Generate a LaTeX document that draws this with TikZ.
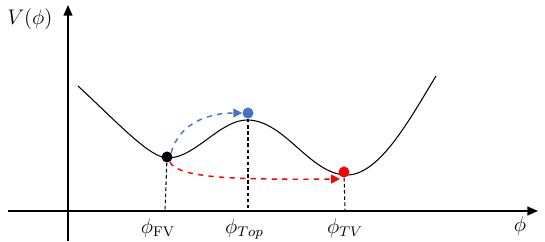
\documentclass[tikz,border=0pt]{standalone}
\usepackage{amsmath}
\usepackage{tikz}
\usepackage{xcolor}
\usetikzlibrary{arrows.meta,positioning}
\definecolor{hopblue}{RGB}{68,114,196}
\definecolor{hopred}{RGB}{255,0,0}

\begin{document}
\begin{tikzpicture}[x=.02cm,y=-.02cm,>=Latex,font=\large,
  dot/.style={circle,inner sep=0pt,minimum size=.22cm},
  guide/.style={dash pattern=on 2pt off 1.5pt,line width=.6pt},
  hop/.style={dashed,thick,->,>={Triangle[length=5pt,width=5pt]}}]
\useasboundingbox (0,0) rectangle (545,242);
% axes
\coordinate (xs) at (8,211);
\coordinate (xe) at (538,211);
\coordinate (ys) at (68,241);
\coordinate (ye) at (68,5);
\draw[thick,-{Triangle[length=6pt,width=5pt]}] (xs)--(xe);
\draw[thick,-{Triangle[length=6pt,width=5pt]}] (ys)--(ye);
\node (vlab) at (30,19) {$V(\phi)$};
\node (plab) at (520,226) {$\phi$};
% potential
\coordinate (c0) at (78,86);
\coordinate (cfv) at (168,158);
\coordinate (ctop) at (247,120);
\coordinate (ctv) at (347,175);
\coordinate (c1) at (436,76);
\draw[semithick] (c0) .. controls (120,125) and (150,158) .. (cfv)
  .. controls (195,158) and (220,120) .. (ctop)
  .. controls (285,120) and (310,175) .. (ctv)
  .. controls (380,175) and (411,117) .. (c1);
% vacua
\node[dot,fill=black] (fv) at (167,157) {};
\node[dot,fill=hopblue] (top) at (248,113) {};
\node[dot,fill=hopred] (tv) at (344,172) {};
\coordinate (afv) at (165,211);
\coordinate (atop) at (248,211);
\coordinate (atv) at (345,211);
\draw[guide] (fv)--(afv);
\draw[guide] (top)--(atop);
\draw[guide] (tv)--(atv);
\node[below=1pt of afv,xshift=-4pt] (lfv) {$\phi_{\mathrm{FV}}$};
\node[below=1pt of atop,xshift=-2pt] (ltop) {$\phi_{Top}$};
\node[below=1pt of atv] (ltv) {$\phi_{TV}$};
% transitions
\coordinate (tvin) at (340,179);
\draw[hop,hopblue] (fv.north east) to[out=75,in=180] (top.west);
\draw[hop,hopred] (fv.-60) .. controls (178,177) and (225,180) .. (tvin);
\end{tikzpicture}
\end{document}
